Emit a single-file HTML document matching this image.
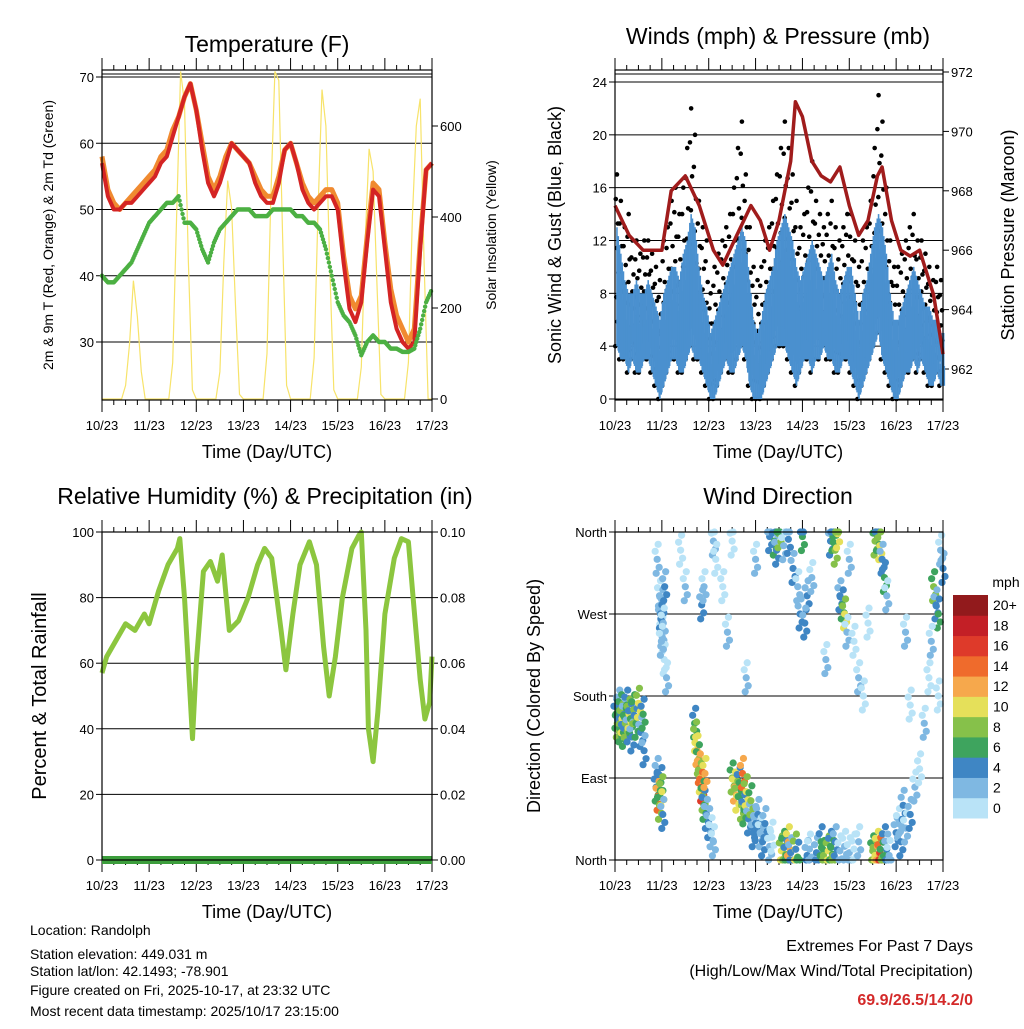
<!DOCTYPE html>
<html><head><meta charset="utf-8"><style>
body{margin:0;background:#fff;}
svg text{font-family:"Liberation Sans",sans-serif;fill:#000;}
</style></head><body>
<svg id="c" width="1024" height="1024" viewBox="0 0 1024 1024" xmlns="http://www.w3.org/2000/svg">
<g>
<text x="267" y="52" font-size="23" text-anchor="middle">Temperature (F)</text>
<text transform="translate(53,235) rotate(-90)" font-size="14" text-anchor="middle">2m &amp; 9m T (Red, Orange) &amp; 2m Td (Green)</text>
<text transform="translate(496,235) rotate(-90)" font-size="14" text-anchor="middle">Solar Insolation (Yellow)</text>
<text x="267" y="458" font-size="18" text-anchor="middle">Time (Day/UTC)</text>
</g>
<g>
<text x="778" y="44" font-size="23" text-anchor="middle">Winds (mph) &amp; Pressure (mb)</text>
<text transform="translate(561,235) rotate(-90)" font-size="18" text-anchor="middle">Sonic Wind &amp; Gust (Blue, Black)</text>
<text transform="translate(1014,235) rotate(-90)" font-size="18" text-anchor="middle">Station Pressure (Maroon)</text>
<text x="778" y="458" font-size="18" text-anchor="middle">Time (Day/UTC)</text>
</g>
<g>
<text x="265" y="504" font-size="23" text-anchor="middle">Relative Humidity (%) &amp; Precipitation (in)</text>
<text transform="translate(46,696) rotate(-90)" font-size="20" text-anchor="middle">Percent &amp; Total Rainfall</text>
<text x="267" y="918" font-size="18" text-anchor="middle">Time (Day/UTC)</text>
</g>
<g>
<text x="778" y="504" font-size="23" text-anchor="middle">Wind Direction</text>
<text transform="translate(540,696) rotate(-90)" font-size="18" text-anchor="middle">Direction (Colored By Speed)</text>
<text x="778" y="918" font-size="18" text-anchor="middle">Time (Day/UTC)</text>
<text x="1006" y="587" font-size="14" text-anchor="middle">mph</text>
</g>
<g font-size="14">
<text x="30" y="935">Location: Randolph</text>
<text x="30" y="959">Station elevation: 449.031 m</text>
<text x="30" y="976">Station lat/lon: 42.1493; -78.901</text>
<text x="30" y="995">Figure created on Fri, 2025-10-17, at 23:32 UTC</text>
<text x="30" y="1016">Most recent data timestamp: 2025/10/17 23:15:00</text>
</g>
<g>
<text x="973" y="951" font-size="16" text-anchor="end">Extremes For Past 7 Days</text>
<text x="973" y="976" font-size="16" text-anchor="end">(High/Low/Max Wind/Total Precipitation)</text>
<text x="973" y="1005" font-size="16" font-weight="bold" text-anchor="end" style="fill:#d42a2a">69.9/26.5/14.2/0</text>
</g>
</svg>
<script>
const days=["10/23","11/23","12/23","13/23","14/23","15/23","16/23","17/23"];
const tempTicks=[30,40,50,60,70];
const solarTicks=[0,200,400,600];
const windTicks=[0,4,8,12,16,20,24];
const presTicks=[962,964,966,968,970,972];
const rhTicks=[0,20,40,60,80,100];
const rainTicks=["0.00","0.02","0.04","0.06","0.08","0.10"];
const dirLabels=["North","East","South","West","North"];
const speedBins=["0","2","4","6","8","10","12","14","16","18","20+"];
const speedColors=["#b9e3f7","#7fb8e2","#3f86c4","#3ea45e","#86c14a","#e5e05a","#f6a84c","#ef6b2c","#de3a2a","#c31f26","#921a1c"];
const tempRed=[57,52,50,50,51,51,52,53,54,55,57,58,61,64,67,69,65,59,54,52,54,57,60,59,58,57,54,52,51,51,54,59,60,57,53,51,50,51,52,52,50,42,35,33,36,45,53,52,44,36,32,30,29,30,44,56,57];
const tempOrange=[58,53,51,50,51,52,53,54,55,56,58,59,62,64,67,69,65,60,55,53,55,58,60,59,58,57,55,53,52,52,55,59,60,57,54,52,51,52,53,53,51,43,37,35,37,46,54,53,45,38,34,32,30,32,45,56,57];
const tempGreen=[40,39,39,40,41,42,44,46,48,49,50,51,51,52,48,48,47,44,42,45,47,48,49,50,50,50,49,49,49,50,50,50,50,49,49,48,48,47,44,40,36,34,33,31,28,30,31,30,30,29,29,28.5,28.5,29,32,36,38];
const solar=[0,0,0,0,0,0,30,120,260,180,60,0, 0,0,0,0,0,0,80,400,720,650,300,20, 0,0,0,0,0,0,60,300,480,420,200,10, 0,0,0,0,0,0,100,450,720,700,350,30, 0,0,0,0,0,0,90,420,680,600,280,20, 0,0,0,0,0,0,70,350,550,500,250,10, 0,0,0,0,0,0,80,400,600,660,300,0, 0];
const windLo=[4,3,3,2,3,2,2,3,3,2,1,0, 1,2,3,3,2,2,3,4,3,3,2,1, 0,0,1,2,3,2,2,3,4,3,1,0, 0,0,1,2,3,4,4,4,3,2,1,2, 3,3,2,3,3,4,3,3,2,2,3,3, 2,1,0,1,2,3,4,5,3,2,1,0, 0,1,2,2,3,2,3,2,1,1,2,1];
const windHi=[13,11,9,8,8,9,8,8,9,8,7,6, 8,9,10,10,9,11,12,14,13,10,8,7, 5,6,7,8,9,10,11,12,13,12,9,6, 5,6,8,9,10,12,13,14,13,12,10,9, 10,11,12,11,10,9,10,11,9,8,9,10, 10,8,6,8,9,11,13,14,13,11,8,6, 6,7,8,9,10,9,8,7,7,6,6,5];
const gust=[17,15,13,14,12,12,11,12,12,11,10,9, 12,13,15,16,14,16,19,22,20,15,13,12, 8,10,11,12,13,14,16,19,21,17,13,10, 9,10,12,13,15,17,19,21,19,17,15,13, 14,16,18,15,14,13,14,15,13,12,13,14, 14,12,10,12,13,15,19,23,21,16,12,10, 10,11,12,13,14,12,12,11,10,9,10,9];
const presT=[0,0.3,0.6,1.0,1.2,1.5,1.8,2.1,2.3,2.6,2.9,3.1,3.3,3.5,3.75,3.85,4.0,4.2,4.4,4.6,4.8,5.0,5.2,5.4,5.6,5.7,5.9,6.1,6.3,6.5,6.8,7.0];
const presV=[967.5,966.5,966,966,968,968.5,967.5,966,965.5,966.5,967.5,967,966,967,969,971,970.5,969,968.5,968.3,968.8,967.5,966.5,967,968.5,968.8,967,966,965.8,966,964.5,962.5];
const rhT=[0,0.1,0.3,0.5,0.7,0.9,1.0,1.2,1.4,1.6,1.65,1.75,1.85,1.92,2.0,2.15,2.3,2.45,2.55,2.7,2.9,3.1,3.3,3.45,3.6,3.8,3.9,4.05,4.2,4.4,4.55,4.7,4.82,4.95,5.1,5.3,5.45,5.5,5.6,5.65,5.75,5.85,6.0,6.2,6.35,6.5,6.6,6.75,6.85,6.95,7.0];
const rhV=[57,62,67,72,70,75,72,82,90,95,98,80,55,37,60,88,91,85,93,70,73,80,90,95,92,70,58,75,90,97,90,65,50,62,80,95,99,100,70,40,30,45,75,92,98,97,80,55,43,48,62];
const rainV=[0,0];
const dirT=[0.02,0.05,0.08,0.1,0.12,0.15,0.18,0.2,0.22,0.25,0.28,0.3,0.33,0.36,0.4,0.45,0.5,0.55,0.6,0.62,0.88,0.9,0.92,0.95,0.98,1.0,1.02,0.9,0.95,1.0,1.05,1.1,1.4,1.5,0.97,1.0,1.03,1.06,0.99,1.7,1.72,1.75,1.78,1.8,1.82,1.85,1.88,1.9,1.92,1.95,2.0,2.05,2.1,1.85,1.9,2.1,2.15,2.5,2.55,2.6,2.65,2.7,2.72,2.75,2.8,2.85,2.9,2.95,3.0,3.05,3.1,3.15,3.2,3.3,3.35,3.3,3.4,3.45,3.5,3.6,3.7,3.8,3.9,4.0,4.1,4.2,3.95,4.05,3.55,3.6,3.65,3.7,3.75,3.85,3.9,4.1,4.15,4.3,4.4,4.45,4.55,4.6,4.65,4.7,4.8,4.9,5.0,5.1,5.2,4.6,4.65,4.7,4.75,4.8,4.85,4.9,4.95,5.0,5.1,5.2,5.3,5.5,5.55,5.6,5.65,5.7,5.75,5.8,5.85,5.55,5.6,5.65,5.7,5.75,5.8,6.0,6.05,6.1,6.15,6.2,6.3,6.4,6.5,6.6,6.7,6.8,6.85,6.9,6.95,7.0,6.75,6.9,2.3,2.4,2.5,2.8,3.0,4.5,5.4,6.3,6.2];
const dirD=[160,150,170,145,165,155,140,160,150,170,145,160,155,135,165,150,172,140,160,120,80,95,70,60,85,75,50,330,290,250,220,200,340,300,270,280,260,300,240,150,135,120,110,100,90,80,70,60,95,50,40,30,20,280,300,350,330,90,80,70,85,60,95,55,75,45,65,30,40,50,30,20,40,15,25,355,350,340,358,345,352,320,300,355,290,310,270,260,10,15,5,20,8,12,3,5,12,8,20,5,10,15,5,20,10,15,8,12,20,350,355,340,358,290,280,270,250,330,240,200,180,10,5,15,8,3,20,12,5,350,355,345,330,310,290,30,40,20,60,35,50,80,100,150,200,300,280,270,340,320,240,180,300,250,350,200,330,220,260,170,250];
const dirS=[6,8,4,6,8,10,6,4,8,6,4,10,6,4,8,6,10,4,6,4,6,4,14,8,6,10,4,2,2,2,0,2,0,2,4,4,2,4,2,6,10,12,8,14,10,16,8,6,12,4,4,2,2,4,2,2,0,8,12,10,6,8,14,6,10,4,8,4,4,4,2,4,4,2,0,4,6,4,8,2,4,4,2,6,4,2,4,4,10,8,6,12,4,10,6,4,2,4,6,8,10,6,8,4,2,2,2,0,2,4,6,8,10,4,6,10,2,2,0,2,0,8,10,12,16,8,6,4,2,8,6,10,4,6,2,4,2,4,4,2,4,2,0,2,0,8,4,6,2,4,2,0,0,2,0,2,2,2,0,0,2];

const NS="http://www.w3.org/2000/svg";
const svg=document.getElementById('c');
function mk(tag,attrs,parent){const e=document.createElementNS(NS,tag);for(const k in attrs)e.setAttribute(k,attrs[k]);(parent||svg).appendChild(e);return e;}
function lin(d0,d1,r0,r1){return v=>r0+(v-d0)/(d1-d0)*(r1-r0);}
const P1={x0:102,x1:432,y0:70,y1:400},P2={x0:615,x1:943,y0:70,y1:400},P3={x0:102,x1:432,y0:532,y1:860},P4={x0:615,x1:943,y0:532,y1:860};
function frame(P,name){
  const g=mk('g',{});
  
  
  const x=lin(0,7,P.x0,P.x1);
  days.forEach((d,i)=>{
    const t=mk('text',{x:x(i),y:P.y1+30,'font-size':13,'text-anchor':'middle'},g);t.textContent=d;
    
    
    mk('line',{x1:x(i),x2:x(i),y1:P.y1,y2:P.y1+12,stroke:'#000','stroke-width':1},g);
    mk('line',{x1:x(i),x2:x(i),y1:P.y0,y2:P.y0-12,stroke:'#000','stroke-width':1},g);
    if(i<7){for(let k=1;k<4;k++){const xx=x(i+k/4);mk('line',{x1:xx,x2:xx,y1:P.y1,y2:P.y1+5,stroke:'#000'},g);mk('line',{x1:xx,x2:xx,y1:P.y0,y2:P.y0-5,stroke:'#000'},g);}}
  });
  return g;
}
function box(P,name){const r=mk('rect',{x:P.x0,y:P.y0,width:P.x1-P.x0,height:P.y1-P.y0,fill:'none',stroke:'#000','stroke-width':1.2});

}
function yticks(P,ticks,sc,side,labels){
  ticks.forEach((v,i)=>{const y=sc(v);
    const xx=side==='l'?P.x0:P.x1;
    mk('line',{x1:xx,x2:side==='l'?xx-6:xx+6,y1:y,y2:y,stroke:'#000'});
    const t=mk('text',{x:side==='l'?xx-8:xx+8,y:y+5,'font-size':13,'text-anchor':side==='l'?'end':'start'});
    t.textContent=labels?labels[i]:v;
    
    
  });
}
function hgrid(P,ticks,sc){ticks.forEach(v=>{const y=sc(v);if(y>=P.y0-1&&y<=P.y1+1)mk('line',{x1:P.x0,x2:P.x1,y1:y,y2:y,stroke:'#000','stroke-width':1});});}
function path(xs,ys,sx,sy,attrs,name){let d='';xs.forEach((t,i)=>{d+=(i?'L':'M')+sx(t).toFixed(1)+','+sy(ys[i]).toFixed(1);});const p=mk('path',Object.assign({d:d,fill:'none'},attrs));return p;}

// Panel 1
(function(){
  const P=P1,x=lin(0,7,P.x0,P.x1),y=lin(30,70,342,77),ys=lin(0,600,399,126);
  frame(P,'temperature');
  hgrid(P,tempTicks,y);mk('line',{x1:P.x0,x2:P.x1,y1:74,y2:74,stroke:'#000'});
  yticks(P,tempTicks,y,'l');yticks(P,solarTicks,ys,'r');
  const st=solar.map((v,i)=>i/12);
  path(st,solar,x,ys,{stroke:'#f7e36a','stroke-width':1.2},'solar-line');
  const tt=tempRed.map((v,i)=>i*0.125);
  path(tt,tempOrange,x,y,{stroke:'#f08a30','stroke-width':5,'stroke-linejoin':'round'},'temp-9m-line');
  path(tt,tempRed,x,y,{stroke:'#d42424','stroke-width':4,'stroke-linejoin':'round'},'temp-2m-line');
  const g=mk('g',{fill:'#4cb043'});
  
  
  for(let i=0;i<tempGreen.length-1;i++){for(let k=0;k<6;k++){const f=k/6;const t=(i+f)*0.125;const v=tempGreen[i]+(tempGreen[i+1]-tempGreen[i])*f;mk('circle',{cx:x(t),cy:y(v),r:2.2},g);}}
  box(P,'temperature');
})();
// Panel 2
(function(){
  const P=P2,x=lin(0,7,P.x0,P.x1),y=lin(0,24,399,82),yp=lin(962,972,369,72);
  frame(P,'wind');
  hgrid(P,windTicks,y);mk('line',{x1:P.x0,x2:P.x1,y1:74,y2:74,stroke:'#000'});
  yticks(P,windTicks,y,'l');yticks(P,presTicks,yp,'r');
  const wt=windLo.map((v,i)=>i/12+1/24);
  const gb=mk('g',{fill:'#000'});
  
  
  const offs=[-0.035,0.01,-0.015,0.03,-0.005,0.02,-0.025,0.0];
  wt.forEach((t,i)=>{for(let k=0;k<8;k++){const v=windLo[i]+(gust[i]-windLo[i])*k/7;mk('circle',{cx:x(t+offs[k]),cy:y(v),r:2.3},gb);}});
  const bb=mk('g',{stroke:'#4a90cf','stroke-width':1.6});
  
  
  wt.forEach((t,i)=>{
    const n=i<wt.length-1?i+1:i;
    for(let k=0;k<6;k++){const f=k/6;const tt=t+f/12;
      const hi=windHi[i]+(windHi[n]-windHi[i])*f - (k%2)*2.5;
      const lo=windLo[i]+(windLo[n]-windLo[i])*f + (k%3===1?1.5:0);
      mk('line',{x1:x(tt),x2:x(tt),y1:y(Math.max(lo,0)),y2:y(hi)},bb);}
  });
  path(presT,presV,x,yp,{stroke:'#a01c1c','stroke-width':3.5,'stroke-linejoin':'round'},'pressure-line');
  box(P,'wind');
})();
// Panel 3
(function(){
  const P=P3,x=lin(0,7,P.x0,P.x1),y=lin(0,100,860,532);
  frame(P,'humidity');
  hgrid(P,rhTicks,y);
  yticks(P,rhTicks,y,'l');yticks(P,rhTicks,y,'r',rainTicks);
  path(rhT,rhV,x,y,{stroke:'#8cc63f','stroke-width':5,'stroke-linejoin':'round'},'humidity-line');
  path([0,7],rainV.map(v=>v*1000),x,y,{stroke:'#3c9e3c','stroke-width':8},'precipitation-line');
  box(P,'humidity');
})();
// Panel 4
(function(){
  const P=P4,x=lin(0,7,P.x0,P.x1),y=lin(0,360,860,532);
  frame(P,'direction');
  const dv=[0,90,180,270,360];
  hgrid(P,dv,y);
  yticks(P,dv,y,'l',dirLabels);
  const g=mk('g',{});
  
  
  const sat=[[0,0],[-2,-8],[2,8],[1,-15],[-1,14]];
  dirT.forEach((t,i)=>{const b=Math.min(10,Math.floor(dirS[i]/2));
    sat.forEach((o,j)=>{const b2=j===0?b:Math.max(0,b-(j%2));const cy=Math.min(860,Math.max(532,y(dirD[i])+o[1]));mk('circle',{cx:x(t)+o[0],cy:cy,r:3.6,fill:speedColors[b2]},g);});
  });
  box(P,'direction');
  const cb=mk('g',{});
  
  
  const h=(818-595)/11;
  speedBins.forEach((s,i)=>{const yy=595+(10-i)*h;mk('rect',{x:953,y:yy,width:35,height:h+0.5,fill:speedColors[i]},cb);
    const t=mk('text',{x:993,y:yy+h/2+5,'font-size':14},cb);t.textContent=s;
    
    });
})();
</script>
</body></html>
